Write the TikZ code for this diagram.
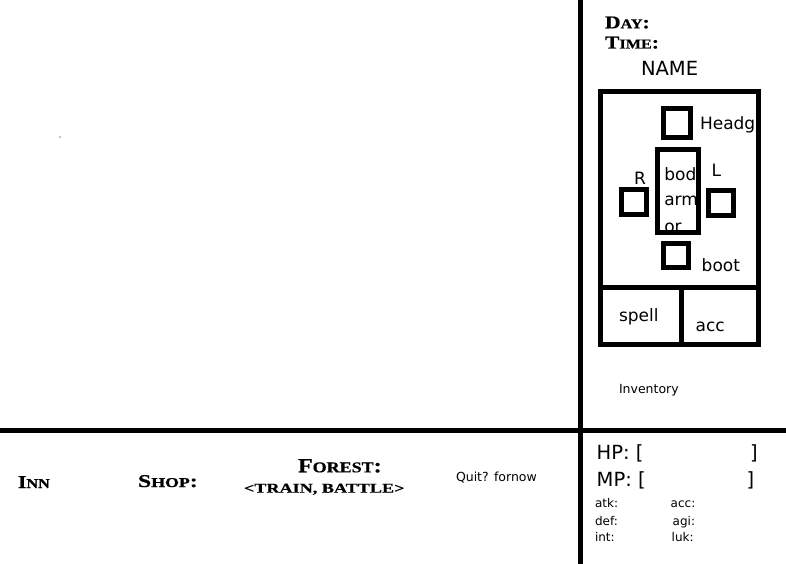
\documentclass[tikz,border=0pt]{standalone}
\usepackage{fontspec}
\setmainfont{DejaVu Sans}
\newfontfamily\cpfont[FakeStretch=1.2,FakeBold=0.6]{Liberation Serif}
\newcommand\cpbig{\fontsize{18}{18}\selectfont}
\newcommand\cpsm{\fontsize{13.5}{13.5}\selectfont}
\tikzset{
  txt/.style={inner sep=0pt, outer sep=0pt, anchor=base west},
  comic/.style={txt, font=\fontsize{17}{17}\selectfont},
  bigcomic/.style={txt, font=\fontsize{19.5}{19.5}\selectfont},
  smallcomic/.style={txt, font=\fontsize{12}{12}\selectfont},
  plain/.style={txt, font=\fontsize{12.5}{12.5}\selectfont},
  cp/.style={txt, font=\cpfont\bfseries},
  heavy/.style={draw=black, line width=5pt},
  slot/.style={heavy, inner sep=0pt, minimum width=25pt, minimum height=25pt}
}
\begin{document}
\begin{tikzpicture}[x=1pt,y=-1pt]
\useasboundingbox (0,0) rectangle (786,564);
\fill[white] (0,0) rectangle (786,564);
% dividers
\draw[heavy] (580,0) -- (580,564);
\draw[heavy] (0,430) -- (786,430);
\fill (60,137) circle (0.6);
% header
\node[cp] (day) at (605,28.3) {\cpbig D\cpsm AY\cpbig :};
\node[cp] (time) at (605,48.5) {\cpbig T\cpsm IME\cpbig :};
\node[bigcomic] (name) at (641,76) {NAME};
% equipment texts (behind boxes)
\node[comic] (headg) at (700,130) {Headg};
\node[comic] (rlab) at (634,184.3) {R};
\node[comic] (llab) at (711.7,176.7) {L};
\node[comic] (bod) at (664.3,180) {bod};
\node[comic] (arm) at (664.3,205.5) {arm};
\node[comic] (or) at (664.3,232.5) {or};
\node[comic] (bootlab) at (701.7,271.7) {boot};
\node[comic] (spell) at (619,321.7) {spell};
\node[comic] (acclab) at (695.7,331) {acc};
% equipment frame
\draw[heavy] (600.8,91.5) rectangle (758.3,344.2);
\draw[heavy] (600.8,287.2) -- (758.3,287.2);
\draw[heavy] (681,287.2) -- (681,344.2);
\node[slot, minimum width=27.3pt, minimum height=29pt] (head) at (677.2,123) {};
\node[slot, minimum width=41pt, minimum height=83.5pt] (body) at (677.5,191.2) {};
\node[slot] (rhand) at (633.5,201.5) {};
\node[slot, minimum width=25.5pt] (lhand) at (721.2,202.5) {};
\node[slot, minimum width=25.5pt, minimum height=24pt] (boot) at (676.2,255.5) {};
\node[plain] (inv) at (619,393) {Inventory};
% menu
\node[cp] (inn) at (18,488) {\cpbig I\cpsm NN};
\node[cp] (shop) at (138,487) {\scalebox{1.1}[1]{\cpbig S\cpsm HOP\cpbig :}};
\node[cp] (forest) at (298,472.3) {\fontsize{20}{20}\selectfont F\fontsize{15}{15}\selectfont OREST\fontsize{20}{20}\selectfont :};
\node[cp] (trainbattle) at (244,492.7) {\scalebox{1.12}[1]{\fontsize{13.5}{13.5}\selectfont <TRAIN, BATTLE>}};
\node[plain] (quit) at (456,481.7) {Quit? fornow};
% stats
\node[bigcomic] (hp) at (596.7,459.3) {HP: [};
\node[bigcomic] (hpend) at (750,459.3) {]};
\node[bigcomic] (mp) at (596.7,486) {MP: [};
\node[bigcomic] (mpend) at (746.7,486) {]};
\node[smallcomic] (atk) at (595,507.3) {atk:};
\node[smallcomic] (accs) at (670.7,507.3) {acc:};
\node[smallcomic] (def) at (595,525) {def:};
\node[smallcomic] (agi) at (672.7,525) {agi:};
\node[smallcomic] (int) at (595,541.7) {int:};
\node[smallcomic] (luk) at (671.7,541.7) {luk:};
\end{tikzpicture}
\end{document}
